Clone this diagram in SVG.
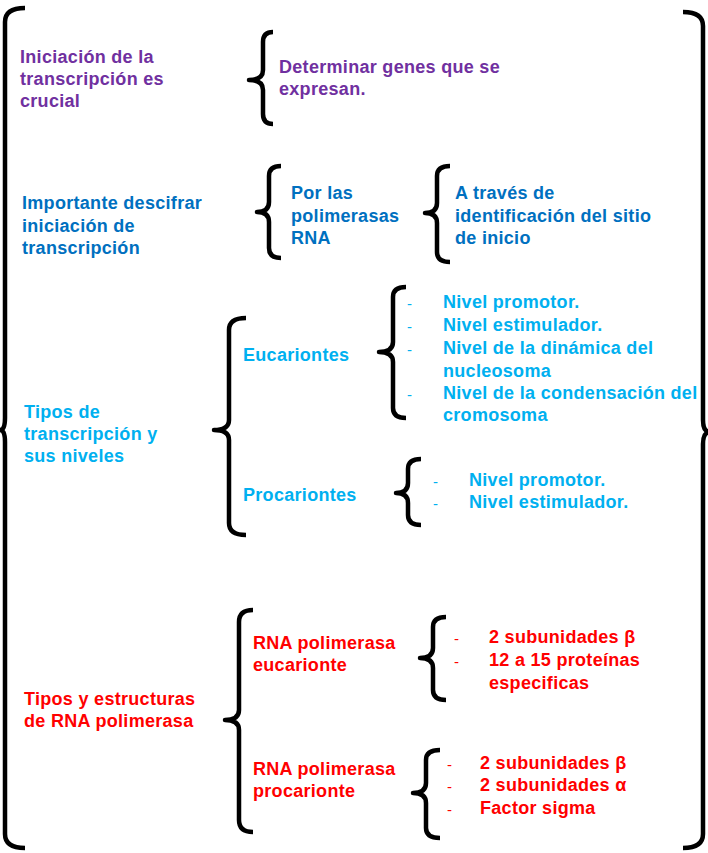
<svg xmlns="http://www.w3.org/2000/svg" width="708" height="853" viewBox="0 0 708 853">
<style>
text{font-family:"Liberation Sans",Arial,sans-serif;font-weight:bold;font-size:18px;letter-spacing:0.3px}
text.d{font-weight:normal;font-size:15px;letter-spacing:0}
.pu{fill:#7030A0}.db{fill:#0070C0}.lb{fill:#00B0F0}.rd{fill:#FF0000}
.br{fill:none;stroke:#000;stroke-width:4.5;stroke-linecap:butt;stroke-linejoin:round}
</style>
<rect width="708" height="853" fill="#fff"/>
<g id="connectors">
<path class="br" d="M25 8 Q5 8 5 22 L5 418 Q5 430 0 430 Q5 430 5 442 L5 834 Q5 848 25 848"/>
<path class="br" d="M683 12 Q703 12 703 26 L703 420 Q703 432 710 432 Q703 432 703 444 L703 834 Q703 848 683 848"/>
<path class="br" d="M273 32 Q263 32 263 42 L263 70 Q263 80 249 80 Q263 80 263 90 L263 114 Q263 124 273 124"/>
<path class="br" d="M281 166 Q269 166 269 176 L269 202 Q269 212 257 212 Q269 212 269 222 L269 248 Q269 258 281 258"/>
<path class="br" d="M450 166 Q437 166 437 176 L437 203 Q437 213 425 213 Q437 213 437 223 L437 252 Q437 262 450 262"/>
<path class="br" d="M246 318 Q229 318 229 330 L229 420 Q229 430 214 430 Q229 430 229 440 L229 523 Q229 535 246 535"/>
<path class="br" d="M406 287 Q393 287 393 297 L393 342 Q393 352 379 352 Q393 352 393 362 L393 408 Q393 418 406 418"/>
<path class="br" d="M421 459 Q408 459 408 469 L408 483 Q408 493 396 493 Q408 493 408 503 L408 515 Q408 525 421 525"/>
<path class="br" d="M253 610 Q239 610 239 622 L239 710 Q239 720 225 720 Q239 720 239 730 L239 820 Q239 832 253 832"/>
<path class="br" d="M446 617 Q433 617 433 627 L433 648 Q433 658 420 658 Q433 658 433 668 L433 690 Q433 700 446 700"/>
<path class="br" d="M440 750 Q426 750 426 760 L426 783 Q426 793 413 793 Q426 793 426 803 L426 828 Q426 838 440 838"/>
</g>
<g id="n1"><text x="20" y="63" class="pu">Iniciación de la</text><text x="20" y="85" class="pu">transcripción es</text><text x="20" y="107" class="pu">crucial</text></g>
<g id="n2"><text x="279" y="73" class="pu">Determinar genes que se</text><text x="279" y="95" class="pu">expresan.</text></g>
<g id="n3"><text x="22" y="209" class="db">Importante descifrar</text><text x="22" y="232" class="db">iniciación de</text><text x="22" y="254" class="db">transcripción</text></g>
<g id="n4"><text x="291" y="199" class="db">Por las</text><text x="291" y="222" class="db">polimerasas</text><text x="291" y="244" class="db">RNA</text></g>
<g id="n5"><text x="455" y="199" class="db">A través de</text><text x="455" y="222" class="db">identificación del sitio</text><text x="455" y="244" class="db">de inicio</text></g>
<g id="n6"><text x="24" y="418" class="lb">Tipos de</text><text x="24" y="440" class="lb">transcripción y</text><text x="24" y="462" class="lb">sus niveles</text></g>
<g id="n7"><text x="243" y="361" class="lb">Eucariontes</text></g>
<g id="n8"><text x="243" y="501" class="lb">Procariontes</text></g>
<g id="n9">
<text x="407" y="309" class="lb d">-</text><text x="443" y="308" class="lb">Nivel promotor.</text>
<text x="407" y="332" class="lb d">-</text><text x="443" y="331" class="lb">Nivel estimulador.</text>
<text x="407" y="355" class="lb d">-</text><text x="443" y="354" class="lb">Nivel de la dinámica del</text>
<text x="443" y="377" class="lb">nucleosoma</text>
<text x="407" y="400" class="lb d">-</text><text x="443" y="399" class="lb">Nivel de la condensación del</text>
<text x="443" y="421" class="lb">cromosoma</text>
</g>
<g id="n10">
<text x="433" y="487" class="lb d">-</text><text x="469" y="486" class="lb">Nivel promotor.</text>
<text x="433" y="509" class="lb d">-</text><text x="469" y="508" class="lb">Nivel estimulador.</text>
</g>
<g id="n11"><text x="24" y="705" class="rd">Tipos y estructuras</text><text x="24" y="727" class="rd">de RNA polimerasa</text></g>
<g id="n12"><text x="253" y="649" class="rd">RNA polimerasa</text><text x="253" y="671" class="rd">eucarionte</text></g>
<g id="n13"><text x="253" y="775" class="rd">RNA polimerasa</text><text x="253" y="797" class="rd">procarionte</text></g>
<g id="n14">
<text x="454" y="644" class="rd d">-</text><text x="489" y="643" class="rd">2 subunidades β</text>
<text x="454" y="667" class="rd d">-</text><text x="489" y="666" class="rd">12 a 15 proteínas</text>
<text x="489" y="689" class="rd">especificas</text>
</g>
<g id="n15">
<text x="447" y="770" class="rd d">-</text><text x="480" y="769" class="rd">2 subunidades β</text>
<text x="447" y="792" class="rd d">-</text><text x="480" y="791" class="rd">2 subunidades α</text>
<text x="447" y="815" class="rd d">-</text><text x="480" y="814" class="rd">Factor sigma</text>
</g>
</svg>
